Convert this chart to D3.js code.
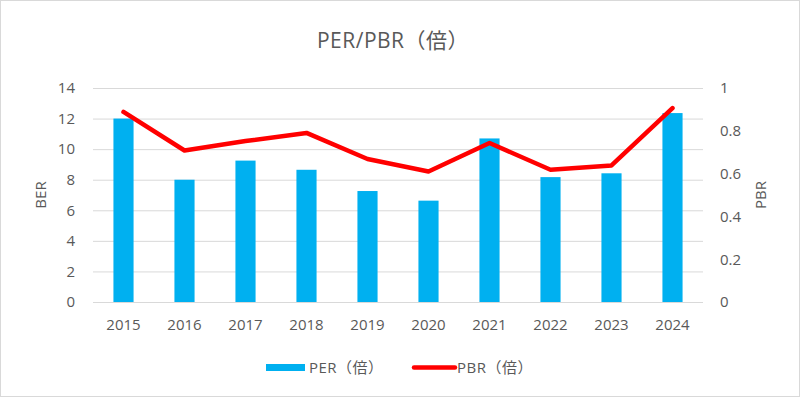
<!DOCTYPE html>
<html>
<head>
<meta charset="utf-8">
<script src="https://cdn.jsdelivr.net/npm/d3@7/dist/d3.min.js"></script>
<style>
  body { margin: 0; background: #fff; }
  svg text { font-family: "Open Sans", "Noto Sans CJK JP", sans-serif; fill: #595959; }
</style>
</head>
<body>
<svg id="chart" width="800" height="397"></svg>
<script>
const years = ["2015", "2016", "2017", "2018", "2019", "2020", "2021", "2022", "2023", "2024"];
const perValues = [12.0, 8.0, 9.25, 8.65, 7.26, 6.63, 10.7, 8.17, 8.42, 12.36];
const pbrValues = [0.888, 0.708, 0.752, 0.79, 0.668, 0.61, 0.743, 0.618, 0.638, 0.906];
const leftTicks = [0, 2, 4, 6, 8, 10, 12, 14];
const rightTicks = [0, 0.2, 0.4, 0.6, 0.8, 1];

const svg = d3.select("#chart");
const margin = {left: 93, right: 97, top: 88, bottom: 95};
const width = 800 - margin.left - margin.right;
const height = 397 - margin.top - margin.bottom;

// chart border
svg.append("rect")
  .attr("x", 0.5).attr("y", 0.5)
  .attr("width", 799).attr("height", 396)
  .attr("fill", "#fff")
  .attr("stroke", "#d9d9d9");

svg.append("text")
  .attr("x", 393).attr("y", 48)
  .attr("text-anchor", "middle")
  .style("font-size", "21px")
  .style("letter-spacing", "0.5px")
  .text("PER/PBR（倍）");

const g = svg.append("g").attr("transform", `translate(${margin.left},${margin.top})`);

const x = d3.scaleBand().domain(years).range([0, width]).paddingInner(0.67).paddingOuter(0.335);
const yL = d3.scaleLinear().domain([0, 14]).range([height, 0]);
const yR = d3.scaleLinear().domain([0, 1]).range([height, 0]);

// gridlines
g.append("g")
  .call(d3.axisLeft(yL).tickValues(leftTicks).tickSize(-width).tickFormat(""))
  .call(a => a.select(".domain").remove())
  .call(a => a.selectAll("line").attr("stroke", "#d9d9d9").attr("stroke-width", 1));

// left axis labels
g.append("g")
  .call(d3.axisLeft(yL).tickValues(leftTicks).tickSize(0).tickPadding(18))
  .call(a => a.select(".domain").remove())
  .call(a => a.selectAll("text").style("font-size", "15px").attr("fill", "#595959"));

// right axis labels
g.append("g")
  .attr("transform", `translate(${width},0)`)
  .call(d3.axisRight(yR).tickValues(rightTicks).tickSize(0).tickPadding(17).tickFormat(d => d3.format("")(d)))
  .call(a => a.select(".domain").remove())
  .call(a => a.selectAll("text").style("font-size", "15px").attr("fill", "#595959"));

// x axis
g.append("g")
  .attr("transform", `translate(0,${height})`)
  .call(d3.axisBottom(x).tickSize(0).tickPadding(17))
  .call(a => a.select(".domain").remove())
  .call(a => a.selectAll("text").style("font-size", "15px").attr("fill", "#595959"));

// bars
g.append("g").selectAll("rect").data(years).enter().append("rect")
  .attr("x", d => x(d))
  .attr("y", (d, i) => yL(perValues[i]))
  .attr("width", x.bandwidth())
  .attr("height", (d, i) => height - yL(perValues[i]))
  .attr("fill", "#00b0f0");

// line
const line = d3.line()
  .x((d, i) => x(years[i]) + x.bandwidth() / 2)
  .y(d => yR(d));
g.append("path")
  .datum(pbrValues)
  .attr("d", line)
  .attr("fill", "none")
  .attr("stroke", "#ff0000")
  .attr("stroke-width", 4.5)
  .attr("stroke-linejoin", "round")
  .attr("stroke-linecap", "round");

// axis titles
svg.append("text")
  .attr("transform", "translate(46,195) rotate(-90)")
  .attr("text-anchor", "middle")
  .style("font-size", "15px")
  .text("BER");
svg.append("text")
  .attr("transform", "translate(766,195) rotate(-90)")
  .attr("text-anchor", "middle")
  .style("font-size", "15px")
  .text("PBR");

// legend
const lg = svg.append("g");
lg.append("rect").attr("x", 266).attr("y", 364).attr("width", 39).attr("height", 7).attr("fill", "#00b0f0");
lg.append("text").attr("x", 309).attr("y", 373).style("font-size", "15px").style("letter-spacing", "0.5px").text("PER（倍）");
lg.append("line").attr("x1", 414).attr("x2", 455).attr("y1", 367.5).attr("y2", 367.5)
  .attr("stroke", "#ff0000").attr("stroke-width", 4.5).attr("stroke-linecap", "round");
lg.append("text").attr("x", 457).attr("y", 373).style("font-size", "15px").style("letter-spacing", "0.5px").text("PBR（倍）");
</script>
</body>
</html>
